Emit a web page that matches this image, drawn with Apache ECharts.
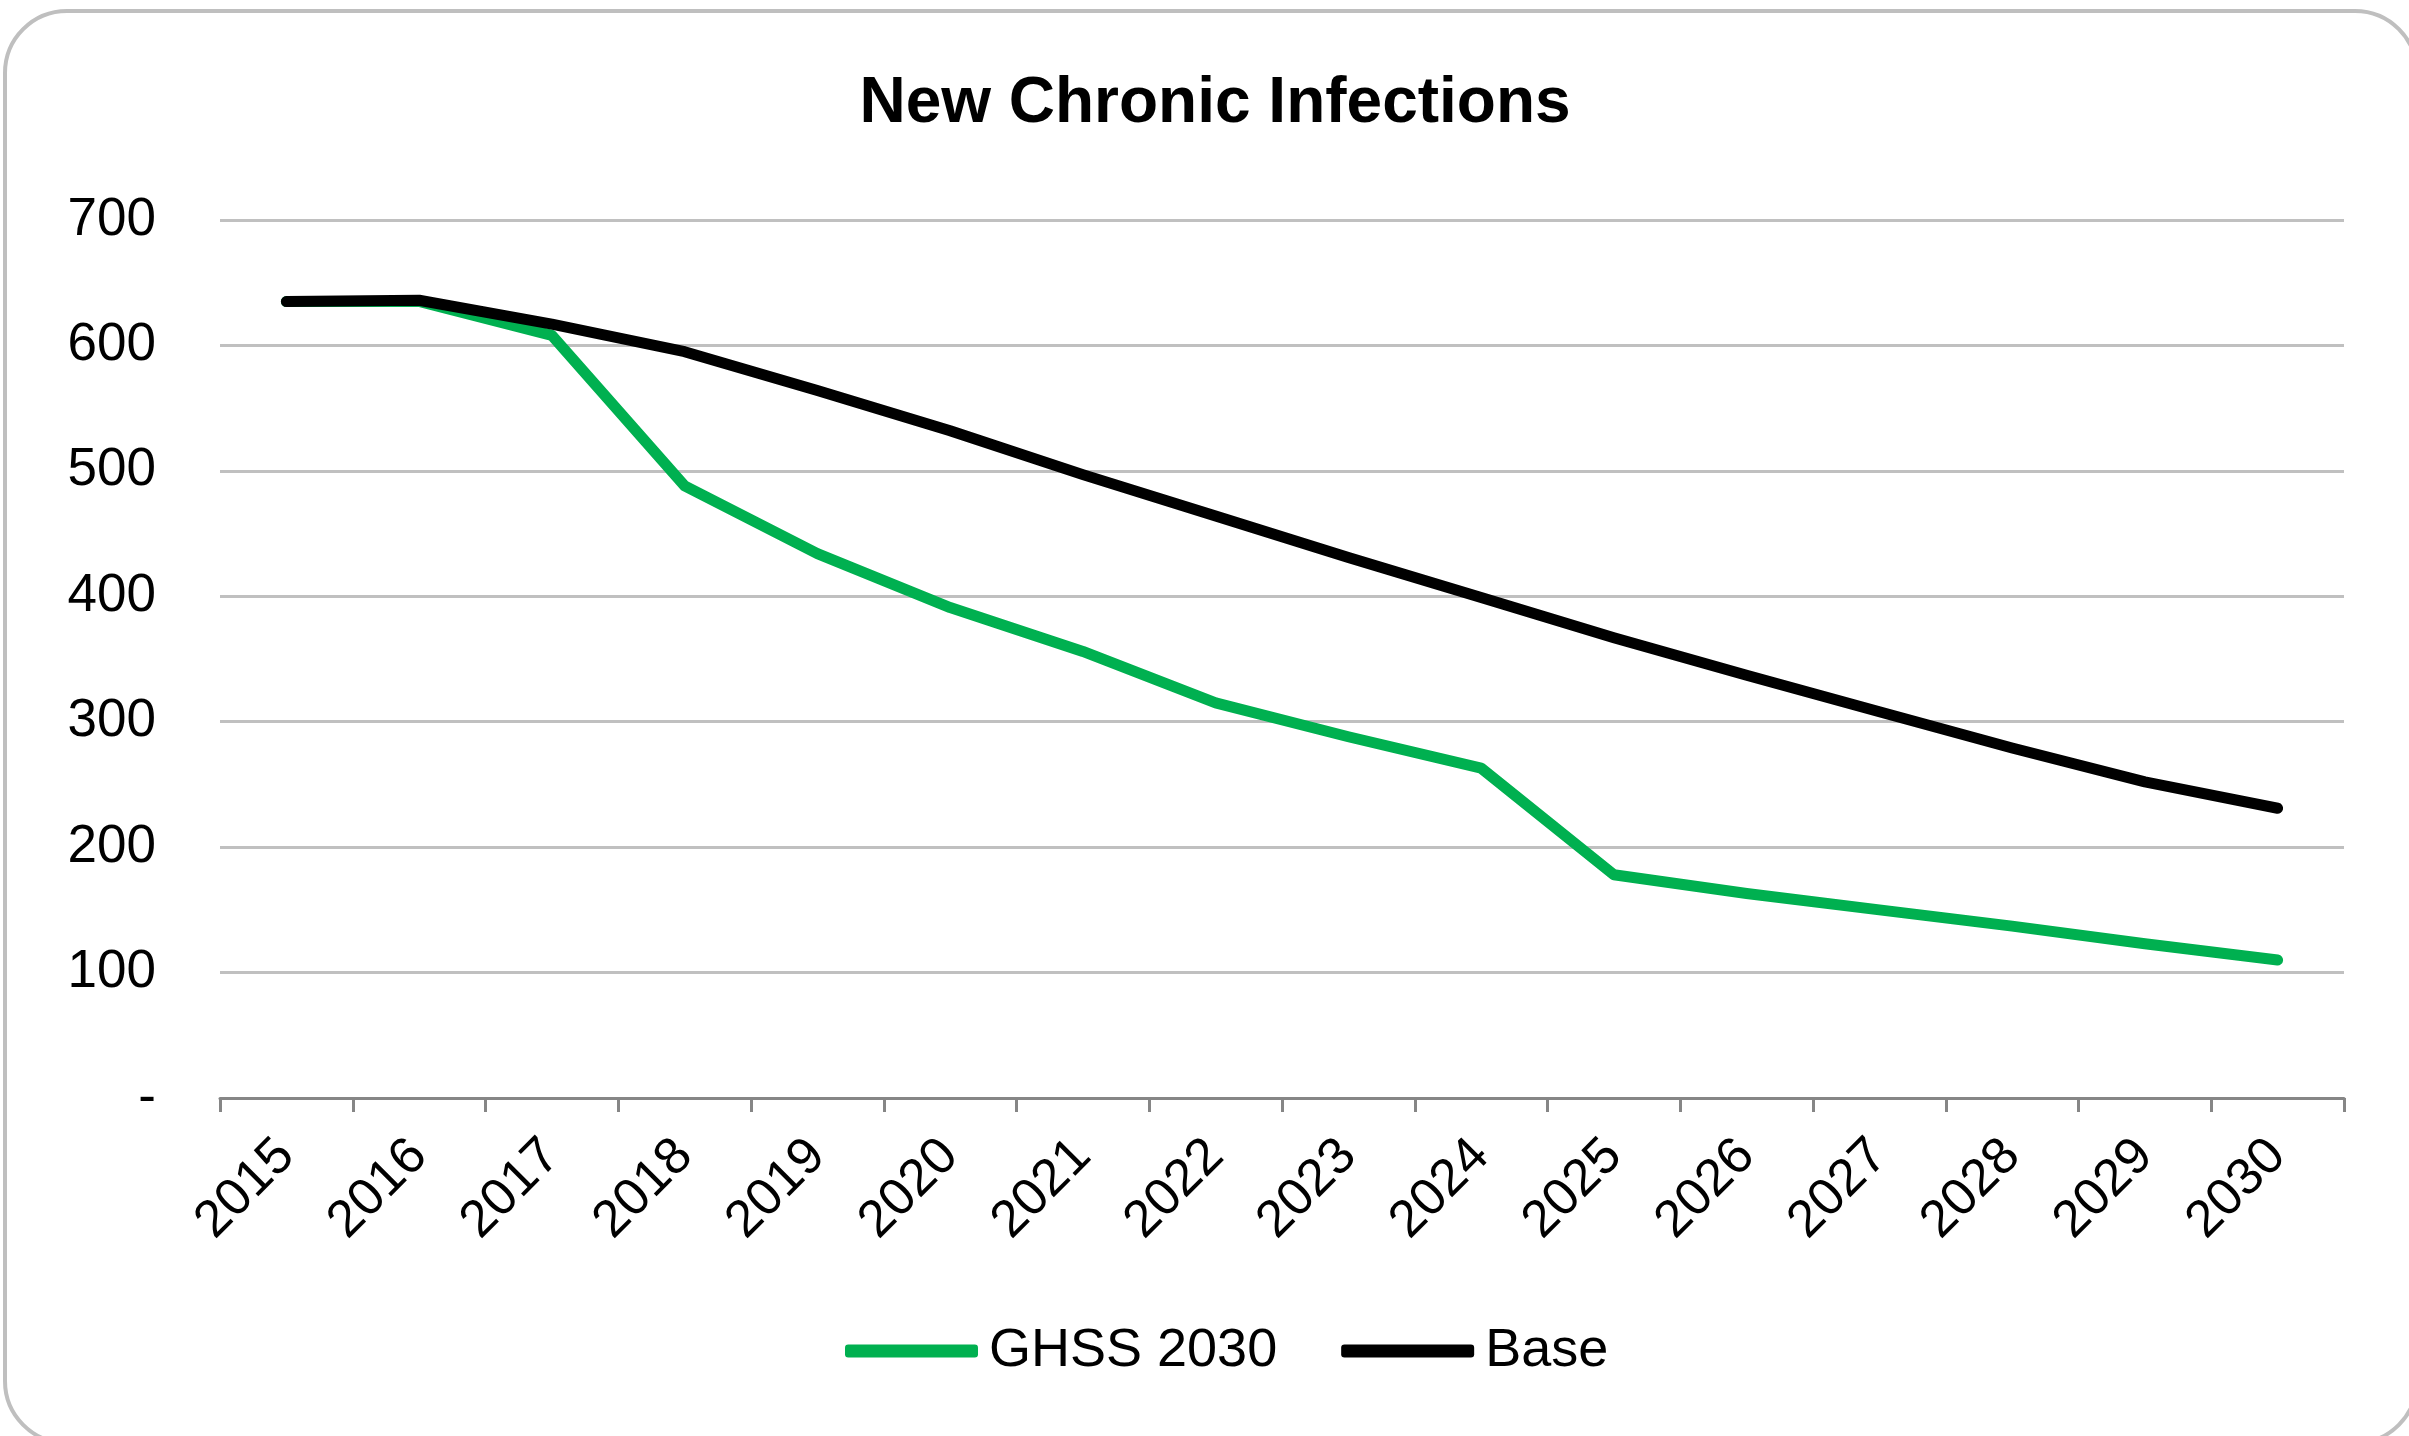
<!DOCTYPE html>
<html>
<head>
<meta charset="utf-8">
<script src="https://cdn.jsdelivr.net/npm/echarts@6/dist/echarts.min.js"></script>
<style>
html,body{margin:0;padding:0;background:#fff;}
#chart{width:2409px;height:1436px;}
</style>
</head>
<body>
<div id="chart"></div>
<script>
var titleText = 'New Chronic Infections';
var categories = ['2015','2016','2017','2018','2019','2020','2021','2022','2023','2024','2025','2026','2027','2028','2029','2030'];
var seriesNames = ['GHSS 2030', 'Base'];
var ghss2030 = [635, 635, 608, 488, 434, 391, 356, 315, 288, 263, 178, 163, 150, 137, 123, 110];
var base = [635, 636, 617, 595, 564, 532, 497, 464, 431, 399, 367, 337, 308, 279, 252, 231];
var yTicks = [0, 100, 200, 300, 400, 500, 600, 700];

var FONT = '"Liberation Sans", Arial, sans-serif';
var chart = echarts.init(document.getElementById('chart'));
chart.setOption({
  backgroundColor: '#ffffff',
  animation: false,
  graphic: [{
    type: 'rect',
    shape: {x: 5, y: 11, width: 2412, height: 1432, r: 62},
    style: {fill: 'none', stroke: '#BFBFBF', lineWidth: 4},
    silent: true,
    z: -10
  }],
  title: {
    text: titleText,
    left: 1210,
    textAlign: 'center',
    top: 67,
    textStyle: {fontFamily: FONT, fontWeight: 'bold', fontSize: 64, color: '#000'}
  },
  legend: {
    data: seriesNames,
    bottom: 53,
    left: 840,
    itemWidth: 133,
    itemHeight: 13,
    itemGap: 64,
    icon: 'roundRect',
    textStyle: {fontFamily: FONT, fontSize: 54, color: '#000', padding: [0, 0, 0, 6]}
  },
  grid: {left: 220, right: 65, top: 220, bottom: 338, containLabel: false},
  xAxis: {
    type: 'category',
    data: categories,
    boundaryGap: true,
    axisLine: {lineStyle: {color: '#868686', width: 3}},
    axisTick: {show: true, length: 14, interval: 0, lineStyle: {color: '#868686', width: 3}},
    axisLabel: {interval: 0, rotate: 45, margin: 50, fontFamily: FONT, fontSize: 52, color: '#000'},
    splitLine: {show: false}
  },
  yAxis: {
    type: 'value',
    min: yTicks[0],
    max: yTicks[yTicks.length - 1],
    interval: 100,
    axisLine: {show: false},
    axisTick: {show: false},
    axisLabel: {
      margin: 64,
      fontFamily: FONT, fontSize: 53, color: '#000',
      formatter: function (v) { return v === 0 ? '-' : String(v); }
    },
    splitLine: {lineStyle: {color: '#C0C0C0', width: 3}}
  },
  series: [{
    name: seriesNames[0],
    type: 'line',
    data: ghss2030,
    symbol: 'none',
    color: '#00B050',
    lineStyle: {color: '#00B050', width: 11, cap: 'round', join: 'round'},
    z: 2
  }, {
    name: seriesNames[1],
    type: 'line',
    data: base,
    symbol: 'none',
    color: '#000000',
    lineStyle: {color: '#000000', width: 11, cap: 'round', join: 'round'},
    z: 3
  }]
});
</script>
</body>
</html>
